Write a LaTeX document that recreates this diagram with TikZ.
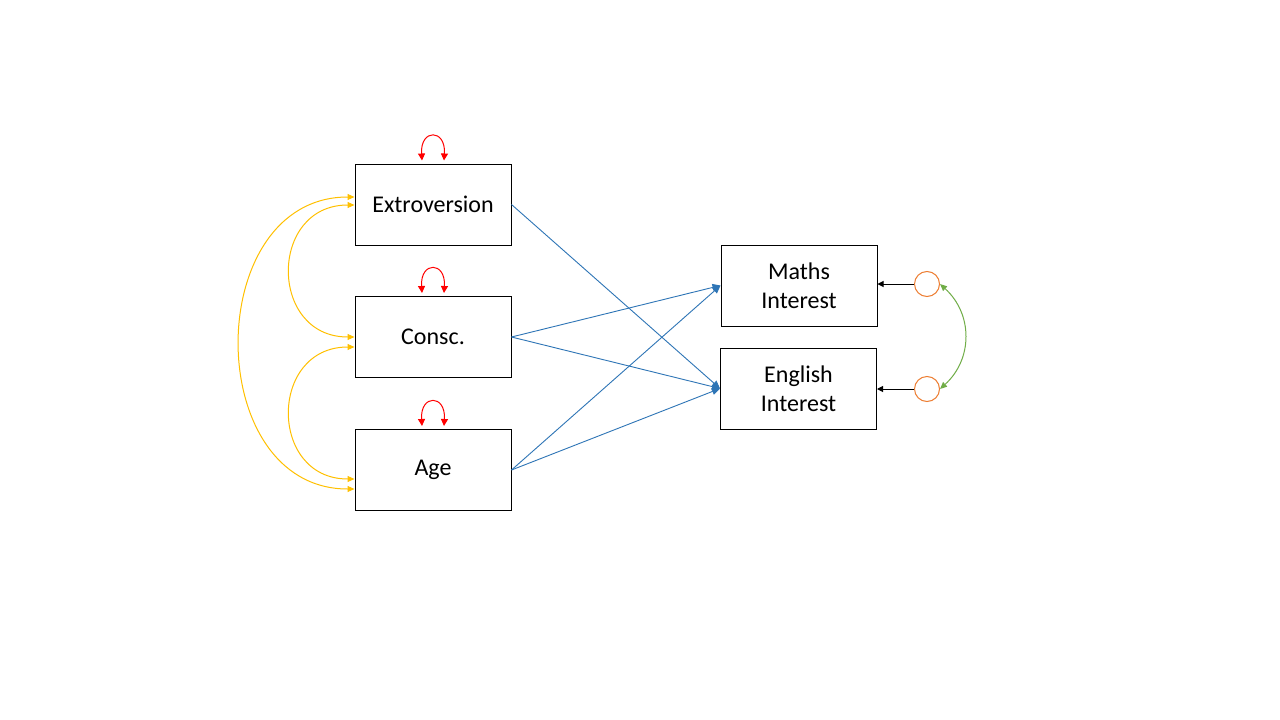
\documentclass[tikz,border=0pt]{standalone}
\usepackage{fontspec}
\setmainfont{Carlito}
\usetikzlibrary{arrows.meta,calc}
\definecolor{pathblue}{RGB}{46,117,182}
\definecolor{covyellow}{RGB}{255,192,0}
\definecolor{varred}{RGB}{255,0,0}
\definecolor{errorange}{RGB}{237,125,49}
\definecolor{resgreen}{RGB}{112,173,71}
\begin{document}
\begin{tikzpicture}[x=1pt,y=-1pt,
  varbox/.style={draw=black,line width=1pt,minimum width=156pt,minimum height=81pt,inner sep=0pt,align=center,font=\fontsize{24}{29}\selectfont},
  errcirc/.style={draw=errorange,line width=1pt,circle,minimum size=25pt,inner sep=0pt},
  pathline/.style={draw=pathblue,line width=0.9pt,-{Triangle[length=8pt,width=7pt]}},
  covline/.style={draw=covyellow,line width=1pt,{Triangle[length=7pt,width=6pt]}-{Triangle[length=7pt,width=6pt]}},
  varline/.style={draw=varred,line width=1pt,{Triangle[length=7pt,width=7pt]}-{Triangle[length=7pt,width=7pt]}},
  resline/.style={draw=resgreen,line width=1pt,{Triangle[length=7pt,width=6pt]}-{Triangle[length=7pt,width=6pt]}},
  errline/.style={draw=black,line width=1pt,-{Triangle[length=6pt,width=6pt]}}
]
\useasboundingbox[fill=white] (0,0) rectangle (1280,720);

\node[varbox] (ext) at (433,204.5) {Extroversion};
\node[varbox] (con) at (433,337) {Consc.};
\node[varbox] (age) at (433,470) {Age};
\node[varbox] (mat) at (799,285.5) {Maths\\Interest};
\node[varbox] (eng) at (798.5,388.5) {English\\Interest};

\node[errcirc] (e1) at (927,284) {};
\node[errcirc] (e2) at (927,389) {};

% regression paths
\draw[pathline] (ext.east) -- (eng.west);
\draw[pathline] (con.east) -- (mat.west);
\draw[pathline] (con.east) -- (eng.west);
\draw[pathline] (age.east) -- (mat.west);
\draw[pathline] (age.east) -- (eng.west);

% error arrows
\draw[errline] (e1.west) -- (e1.west -| mat.east);
\draw[errline] (e2.west) -- (e2.west -| eng.east);

% residual covariance
\draw[resline] (e1.east) .. controls +(33,30) and +(33,-30) .. (e2.east);

% covariances among predictors
\draw[covline] ($(ext.west)+(0,0.5)$) .. controls +(-86,0) and +(-86,0) .. ($(con.west)+(0,0)$);
\draw[covline] ($(con.west)+(0,10)$) .. controls +(-86,0) and +(-86,0) .. ($(age.west)+(0,9)$);
\draw[covline] ($(ext.west)+(0,-7.5)$) .. controls +(-153,0) and +(-153,0) .. ($(age.west)+(0,19)$);

% variances
\foreach \n in {ext,con,age}{
  \draw[varline] ($(\n.north)+(-11,-3)$) .. controls +(-2,-32) and +(2,-32) .. ($(\n.north)+(11,-3)$);
}
\end{tikzpicture}
\end{document}
